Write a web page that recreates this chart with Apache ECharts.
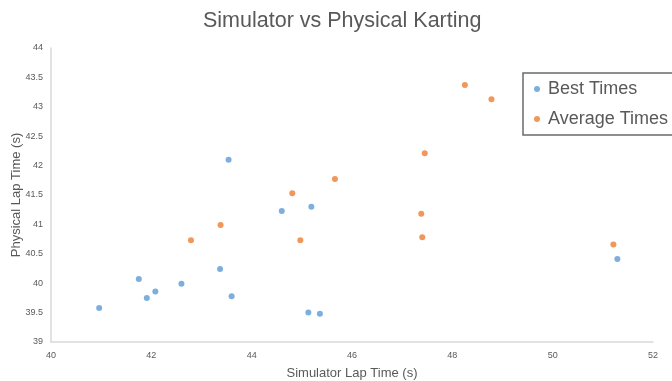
<!DOCTYPE html>
<html><head><meta charset="utf-8">
<script src="https://cdn.jsdelivr.net/npm/echarts@6/dist/echarts.min.js"></script>
<style>html,body{margin:0;padding:0;background:#fff}#c{width:672px;height:381px}</style>
</head><body><div id="c"></div>
<script>
const title = "Simulator vs Physical Karting";
const xName = "Simulator Lap Time (s)";
const yName = "Physical Lap Time (s)";
const bestSim = [40.96, 41.75, 41.91, 42.08, 42.60, 43.37, 43.54, 43.60, 44.60, 45.19, 45.13, 45.36, 51.29];
const bestPhys = [39.58, 40.07, 39.75, 39.86, 39.99, 40.24, 42.10, 39.78, 41.23, 41.30, 39.50, 39.48, 40.41];
const avgSim = [42.79, 43.38, 44.81, 44.97, 45.66, 47.45, 47.38, 47.40, 48.25, 48.78, 51.21];
const avgPhys = [40.73, 40.99, 41.53, 40.73, 41.77, 42.21, 41.18, 40.78, 43.37, 43.13, 40.66];

const pair = (xs, ys) => xs.map((x, i) => [x, ys[i]]);
const chart = echarts.init(document.getElementById('c'));
const font = 'Liberation Sans';
chart.setOption({
  animation: false,
  textStyle: { fontFamily: font },
  title: { text: title, left: 198, top: 5, textStyle: { fontFamily: font, fontSize: 21.5, fontWeight: 'normal', color: '#595959' } },
  grid: { left: 51, right: 19, top: 48, bottom: 39, containLabel: false, outerBoundsMode: 'none' },
  legend: {
    orient: 'vertical', left: 523, top: 73,
    borderColor: '#6b6b6b', borderWidth: 1.5, borderRadius: 0,
    padding: [7, 40, 7, 11], itemGap: 12, itemWidth: 6, itemHeight: 6,
    icon: 'circle',
    textStyle: { fontFamily: font, fontSize: 18, color: '#595959', padding: [0, 0, 0, 3] },
    data: ['Best Times', 'Average Times']
  },
  xAxis: {
    type: 'value', min: 40, max: 52, interval: 2,
    name: xName, nameLocation: 'middle', nameGap: 25, nameMoveOverlap: false,
    nameTextStyle: { fontFamily: font, fontSize: 13, color: '#595959' },
    axisLine: { show: true, lineStyle: { color: '#d9d9d9', width: 1.5 } },
    axisTick: { show: false },
    splitLine: { show: false },
    axisLabel: { fontSize: 9, color: '#595959', margin: 9 }
  },
  yAxis: {
    type: 'value', min: 39, max: 44, interval: 0.5,
    name: yName, nameLocation: 'middle', nameGap: 28, nameMoveOverlap: false,
    nameTextStyle: { fontFamily: font, fontSize: 13, color: '#595959' },
    axisLine: { show: true, lineStyle: { color: '#d9d9d9', width: 1.5 } },
    axisTick: { show: false },
    splitLine: { show: false },
    axisLabel: { fontSize: 9, color: '#595959', margin: 8 }
  },
  series: [
    { name: 'Best Times', type: 'scatter', symbolSize: 6, itemStyle: { color: '#5b9bd5' }, data: pair(bestSim, bestPhys) },
    { name: 'Average Times', type: 'scatter', symbolSize: 6, itemStyle: { color: '#ed7d31' }, data: pair(avgSim, avgPhys) }
  ]
});
</script></body></html>
